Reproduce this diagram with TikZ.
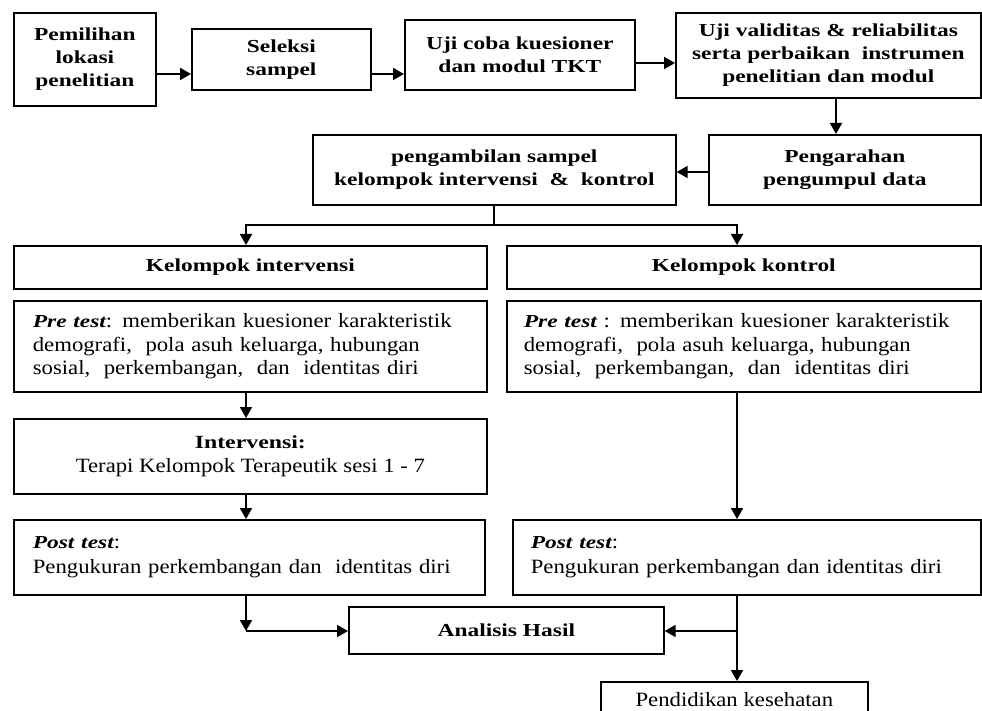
\documentclass[tikz,border=0pt]{standalone}
\usepackage{fontspec}
\setmainfont{Liberation Serif}[FakeStretch=1.12]
\newfontfamily\wb{Liberation Serif}[FakeStretch=1.28]
\usetikzlibrary{arrows.meta}
\newcommand{\regf}{\fontsize{20.3}{23.5}\selectfont}
\newcommand{\boldf}{\wb\bfseries\fontsize{18.3}{23}\selectfont}
\newcommand{\bi}[1]{{\wb\bfseries\itshape\fontsize{18.3}{23}\selectfont #1}}
\tikzset{
  box/.style={draw, line width=1.7pt, inner sep=0pt, anchor=north west, align=center},
  bbox/.style={box, font=\boldf},
  rbox/.style={box, font=\regf},
  lbox/.style={draw, line width=1.7pt, inner ysep=0pt, anchor=north west, align=left, font=\regf},
  ln/.style={line width=1.8pt},
  arr/.style={ln, -{Triangle[length=11pt,width=12pt]}}
}
\begin{document}
\begin{tikzpicture}[x=1pt,y=-1pt]
\useasboundingbox (0,0) rectangle (982,711);
\clip (0,0) rectangle (982,711);
\fill[white] (0,0) rectangle (982,711);
% top row
\node[bbox, minimum width=142pt, minimum height=93pt] (b1) at (13,12) {Pemilihan\\lokasi\\penelitian};
\node[bbox, minimum width=179pt, minimum height=61pt] (b2) at (191,28) {Seleksi\\sampel};
\node[bbox, minimum width=230pt, minimum height=70pt] (b3) at (404,19) {Uji coba kuesioner\\dan modul TKT};
\node[bbox, minimum width=305pt, minimum height=85pt] (b4) at (675,12) {Uji validitas \& reliabilitas\\serta perbaikan~ instrumen\\penelitian dan modul};
\node[bbox, minimum width=272pt, minimum height=70pt] (b5) at (708,134) {Pengarahan\\pengumpul data};
\node[bbox, minimum width=363pt, minimum height=70pt] (b6) at (312,134) {pengambilan sampel\\kelompok intervensi~ \&~ kontrol};
% groups
\node[bbox, minimum width=473pt, minimum height=43pt] (ki) at (13,245) {Kelompok intervensi};
\node[bbox, minimum width=474pt, minimum height=43pt] (kk) at (506,245) {Kelompok kontrol};
\node[lbox, inner xsep=19pt, text width=435pt, minimum height=91pt] (preL) at (13,300)
  {\bi{Pre test}: memberikan kuesioner karakteristik\\demografi,~ pola asuh keluarga, hubungan\\sosial,~ perkembangan,~ dan~ identitas diri};
\node[lbox, inner xsep=17pt, text width=440pt, minimum height=91pt] (preR) at (506,300)
  {\bi{Pre test} : memberikan kuesioner karakteristik\\demografi,~ pola asuh keluarga, hubungan\\sosial,~ perkembangan,~ dan~ identitas diri};
\node[rbox, minimum width=473pt, minimum height=75pt] (iv) at (13,418)
  {{\wb\bfseries\fontsize{18.6}{23}\selectfont Intervensi:}\\[1pt]Terapi Kelompok Terapeutik sesi 1 - 7};
\node[lbox, inner xsep=19pt, text width=433pt, minimum height=75pt] (postL) at (13,519)
  {\bi{Post test}:\\[1pt]Pengukuran perkembangan dan~ identitas diri};
\node[lbox, inner xsep=18pt, text width=432pt, minimum height=75pt] (postR) at (512,519)
  {\bi{Post test}:\\[1pt]Pengukuran perkembangan dan identitas diri};
\node[bbox, minimum width=315pt, minimum height=47pt] (ah) at (348,606) {Analisis Hasil};
\node[rbox, minimum width=267pt, minimum height=36pt] (pk) at (600,681) {Pendidikan kesehatan};
% helper coordinates
\coordinate (r74) at (0,74);
\coordinate (r63) at (0,63);
\coordinate (c836) at (836,0);
\coordinate (r172) at (0,172);
\coordinate (split) at (494,225);
\coordinate (cL) at (246,0);
\coordinate (cR) at (737,0);
\coordinate (j1) at (0,631);
% connectors
\draw[arr] (b1.east |- r74) -- (b2.west |- r74);
\draw[arr] (b2.east |- r74) -- (b3.west |- r74);
\draw[arr] (b3.east |- r63) -- (b4.west |- r63);
\draw[arr] (b4.south -| c836) -- (b5.north -| c836);
\draw[arr] (b5.west |- r172) -- (b6.east |- r172);
\draw[ln] (b6.south -| split) -- (split);
\draw[arr] (split) -| (ki.north -| cL);
\draw[arr] (split) -| (kk.north -| cR);
\draw[arr] (preL.south -| cL) -- (iv.north -| cL);
\draw[arr] (iv.south -| cL) -- (postL.north -| cL);
\draw[arr] (postL.south -| cL) -- (cL |- j1);
\draw[arr] (cL |- j1) -- (ah.west |- j1);
\draw[arr] (preR.south -| cR) -- (postR.north -| cR);
\draw[arr] (postR.south -| cR) -- (pk.north -| cR);
\draw[arr] (cR |- j1) -- (ah.east |- j1);
\end{tikzpicture}
\end{document}
